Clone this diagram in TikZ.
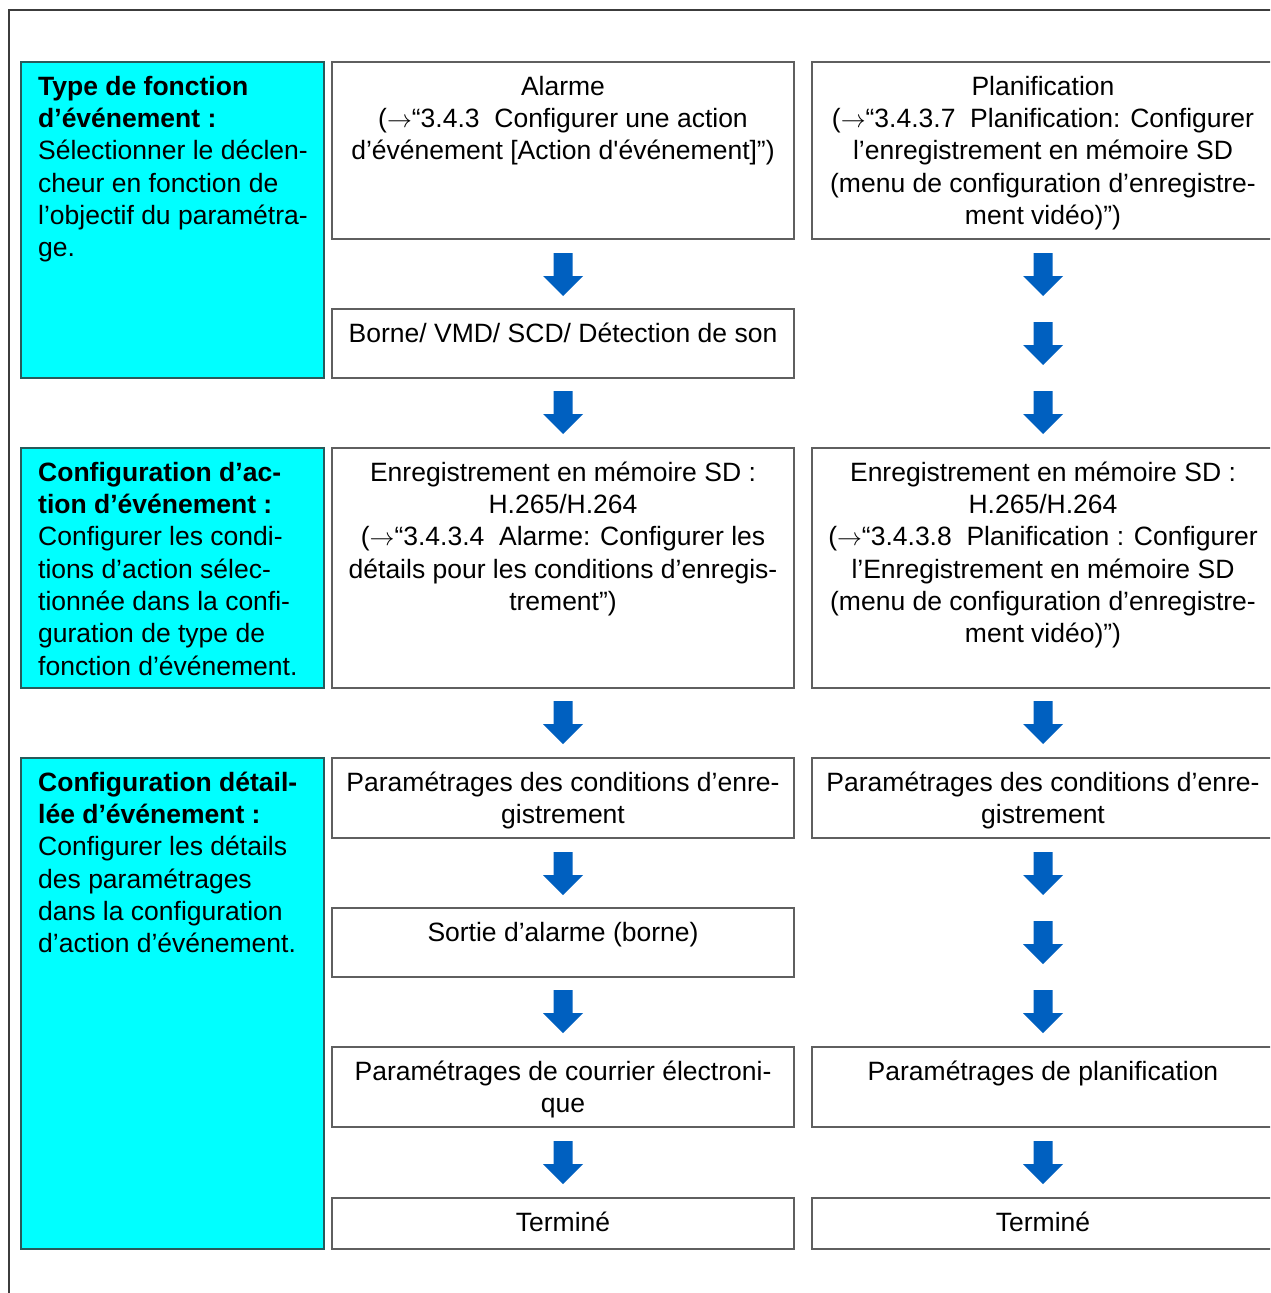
\documentclass[tikz,border=0pt]{standalone}
\usepackage{fontspec}
\setmainfont{Liberation Sans}[Ligatures=TeXOff]
\definecolor{boxline}{RGB}{95,95,95}
\definecolor{cyanline}{RGB}{40,90,90}
\definecolor{cyanfill}{RGB}{0,255,255}
\definecolor{arrowblue}{RGB}{0,96,192}
\definecolor{frameline}{RGB}{60,60,60}
\newcommand\fst{\rule{0pt}{24pt}}
\newcommand\ra{$\rightarrow$}
\begin{document}
\begin{tikzpicture}[x=1pt,y=-1pt,
  box/.style={draw=boxline, line width=1.5pt, fill=white, minimum width=462, minimum height=#1, anchor=north west, inner sep=0, outer sep=0},
  cbox/.style={draw=cyanline, line width=1.5pt, fill=cyanfill, minimum width=303, minimum height=#1, anchor=north west, inner sep=0, outer sep=0},
  txt/.style={anchor=north, align=center, inner sep=0, font=\fontsize{26.5}{32.3}\selectfont, yshift=-9pt},
  ltxt/.style={anchor=north west, align=left, inner sep=0, font=\fontsize{26.5}{32.3}\selectfont, xshift=17pt, yshift=-9pt},
  darr/.pic={\fill[arrowblue] (-9.5,0) -- (9.5,0) -- (9.5,23) -- (20,23) -- (0,43) -- (-20,23) -- (-9.5,23) -- cycle;}
]
\useasboundingbox (0,0) rectangle (1270,1293);
\clip (0,0) rectangle (1270,1293);
\fill[white] (0,0) rectangle (1270,1293);
% frame
\draw[frameline, line width=1.5pt] (9,1300) -- (9,10) -- (1280,10);

% cyan boxes
\node[cbox=316] (c1) at (21,62) {};
\node[cbox=240] (c2) at (21,448) {};
\node[cbox=491] (c3) at (21,758) {};
\node[ltxt] (c1t) at (c1.north west) {\fst\textbf{Type de fonction}\\\textbf{d’événement :}\\Sélectionner le déclen-\\cheur en fonction de\\l’objectif du paramétra-\\ge.};
\node[ltxt] (c2t) at (c2.north west) {\fst\textbf{Configuration d’ac-}\\\textbf{tion d’événement :}\\Configurer les condi-\\tions d’action sélec-\\tionnée dans la confi-\\guration de type de\\fonction d’événement.};
\node[ltxt] (c3t) at (c3.north west) {\fst\textbf{Configuration détail-}\\\textbf{lée d’événement :}\\Configurer les détails\\des paramétrages\\dans la configuration\\d’action d’événement.};

% middle column
\node[box=177] (m1) at (332,62) {};
\node[box=69]  (m2) at (332,309) {};
\node[box=240] (m3) at (332,448) {};
\node[box=80]  (m4) at (332,758) {};
\node[box=69]  (m5) at (332,908) {};
\node[box=80]  (m6) at (332,1047) {};
\node[box=51]  (m7) at (332,1198) {};
\node[txt] (m1t) at (m1.north) {\fst Alarme\\(\ra“3.4.3\ \ Configurer une action\\d’événement [Action d'événement]”)};
\node[txt] (m2t) at (m2.north) {\fst Borne/ VMD/ SCD/ Détection de son};
\node[txt] (m3t) at (m3.north) {\fst Enregistrement en mémoire SD :\\H.265/H.264\\(\ra“3.4.3.4\ \ Alarme: Configurer les\\détails pour les conditions d’enregis-\\trement”)};
\node[txt] (m4t) at (m4.north) {\fst Paramétrages des conditions d’enre-\\gistrement};
\node[txt] (m5t) at (m5.north) {\fst Sortie d’alarme (borne)};
\node[txt] (m6t) at (m6.north) {\fst Paramétrages de courrier électroni-\\que};
\node[txt] (m7t) at (m7.north) {\fst Terminé};

% right column
\node[box=177] (r1) at (812,62) {};
\node[box=240] (r3) at (812,448) {};
\node[box=80]  (r4) at (812,758) {};
\node[box=80]  (r6) at (812,1047) {};
\node[box=51]  (r7) at (812,1198) {};
\node[txt] (r1t) at (r1.north) {\fst Planification\\(\ra“3.4.3.7\ \ Planification: Configurer\\l’enregistrement en mémoire SD\\(menu de configuration d’enregistre-\\ment vidéo)”)};
\node[txt] (r3t) at (r3.north) {\fst Enregistrement en mémoire SD :\\H.265/H.264\\(\ra“3.4.3.8\ \ Planification : Configurer\\l’Enregistrement en mémoire SD\\(menu de configuration d’enregistre-\\ment vidéo)”)};
\node[txt] (r4t) at (r4.north) {\fst Paramétrages des conditions d’enre-\\gistrement};
\node[txt] (r6t) at (r6.north) {\fst Paramétrages de planification};
\node[txt] (r7t) at (r7.north) {\fst Terminé};

% arrows
\foreach \yy in {253,391,701,852,990,1141} { \pic at (563,\yy) {darr}; }
\foreach \yy in {253,322,391,701,852,921,990,1141} { \pic at (1043,\yy) {darr}; }
\end{tikzpicture}
\end{document}
